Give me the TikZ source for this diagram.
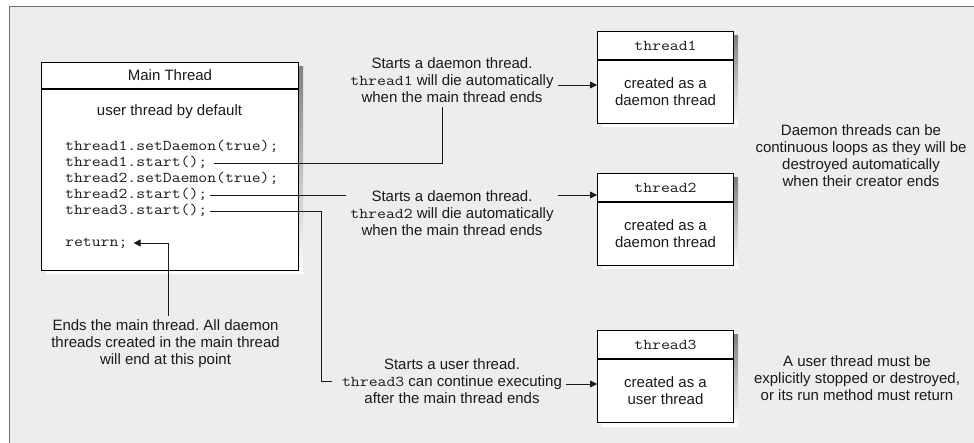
\documentclass[tikz,border=0pt]{standalone}
\usepackage{fontspec}
\setmainfont{Liberation Sans}
\setmonofont{Latin Modern Mono}[FakeStretch=1.15]
\usetikzlibrary{arrows.meta}
\definecolor{panel}{HTML}{EDEDED}
\definecolor{frameline}{HTML}{707070}
\definecolor{shade}{HTML}{A8A8A8}
\definecolor{ink}{HTML}{1A1A1A}
\frenchspacing
\begin{document}
\begin{tikzpicture}[x=1pt,y=-1pt,
  txt/.style={font=\fontsize{15}{17}\selectfont, align=center, text=ink, inner sep=4pt},
  code/.style={font=\ttfamily\fontsize{15}{16}\selectfont, text=ink, anchor=base west,
               inner xsep=2pt, inner ysep=0pt, text height=11pt, text depth=3pt},
  boxpart/.style={draw=black, line width=1pt, fill=white, inner sep=0pt, anchor=north west,
                  minimum width=136, font=\fontsize{15}{17}\selectfont, align=center, text=ink},
  link/.style={draw=ink, line width=0.9pt},
  arr/.style={link, -{Triangle[length=7pt,width=7pt]}},
]
\useasboundingbox (0,0) rectangle (974,443);

% panel with its top and left rule
\fill[panel] (9.5,6.5) rectangle (974,443);
\draw[frameline, line width=1.5pt] (9.5,443) -- (9.5,6.5) -- (974,6.5);

% drop shadows of the boxes
\fill[shade] (46,67) rectangle (303,274);
\fill[shade] (602,36) rectangle (738,127);
\fill[shade] (602,178) rectangle (738,269);
\fill[shade] (602,335) rectangle (738,426);

% main thread box
\node[boxpart, minimum width=257, minimum height=26] (mainhead) at (41,62) {Main Thread};
\node[boxpart, minimum width=257, minimum height=181] (mainbody) at (mainhead.south west) {};
\node[txt] (deflt) at (169.5,112) {user thread by default};
\node[code] (c1) at (63,151) {thread1.setDaemon(true);};
\node[code] (c2) at (63,167) {thread1.start();};
\node[code] (c3) at (63,183) {thread2.setDaemon(true);};
\node[code] (c4) at (63,199) {thread2.start();};
\node[code] (c5) at (63,215) {thread3.start();};
\node[code] (ret) at (63,247) {return;};

% thread boxes
\node[boxpart, minimum height=28] (th1head) at (597,31) {\ttfamily thread1};
\node[boxpart, minimum height=63] (th1body) at (th1head.south west) {created as a\\daemon thread};
\node[boxpart, minimum height=28] (th2head) at (597,173) {\ttfamily thread2};
\node[boxpart, minimum height=63] (th2body) at (th2head.south west) {created as a\\daemon thread};
\node[boxpart, minimum height=28] (th3head) at (597,330) {\ttfamily thread3};
\node[boxpart, minimum height=63] (th3body) at (th3head.south west) {created as a\\user thread};

% explanatory texts
\node[txt] (t1txt) at (452,80) {Starts a daemon thread.\\\texttt{thread1} will die automatically\\when the main thread ends};
\node[txt] (t2txt) at (452,213) {Starts a daemon thread.\\\texttt{thread2} will die automatically\\when the main thread ends};
\node[txt] (t3txt) at (452,381) {Starts a user thread.\\\texttt{thread3} can continue executing\\after the main thread ends};
\node[txt] (endtxt) at (165.5,344) {Ends the main thread. All daemon\\threads created in the main thread\\will end at this point};
\node[txt] (dnote) at (861,156) {Daemon threads can be\\continuous loops as they will be\\destroyed automatically\\when their creator ends};
\node[txt] (unote) at (857,378) {A user thread must be\\explicitly stopped or destroyed,\\or its run method must return};

% connectors
\coordinate (v1) at ([xshift=-10pt]t1txt.south);
\draw[link] ([xshift=4pt]c2.east) -| (v1);
\coordinate (a1) at ([yshift=-5pt]t1txt.east);
\draw[arr] (a1) -- (a1 -| th1body.west);

\draw[link] (c4.east) -- (c4.east -| t2txt.west);
\draw[arr] (c4.east -| t2txt.east) -- (c4.east -| th2head.west);

\coordinate (k3) at ([xshift=-16pt]t3txt.west);
\coordinate (e3) at ([xshift=-6pt]t3txt.west);
\draw[link] (c5.east) -| (k3) -- (e3);
\coordinate (a3) at ([yshift=-3pt]t3txt.east);
\draw[arr] (a3) -- (a3 -| th3body.west);

\coordinate (v0) at ([xshift=3pt]endtxt.north);
\draw[arr] (v0) |- ([xshift=4pt]ret.east);
\end{tikzpicture}
\end{document}
